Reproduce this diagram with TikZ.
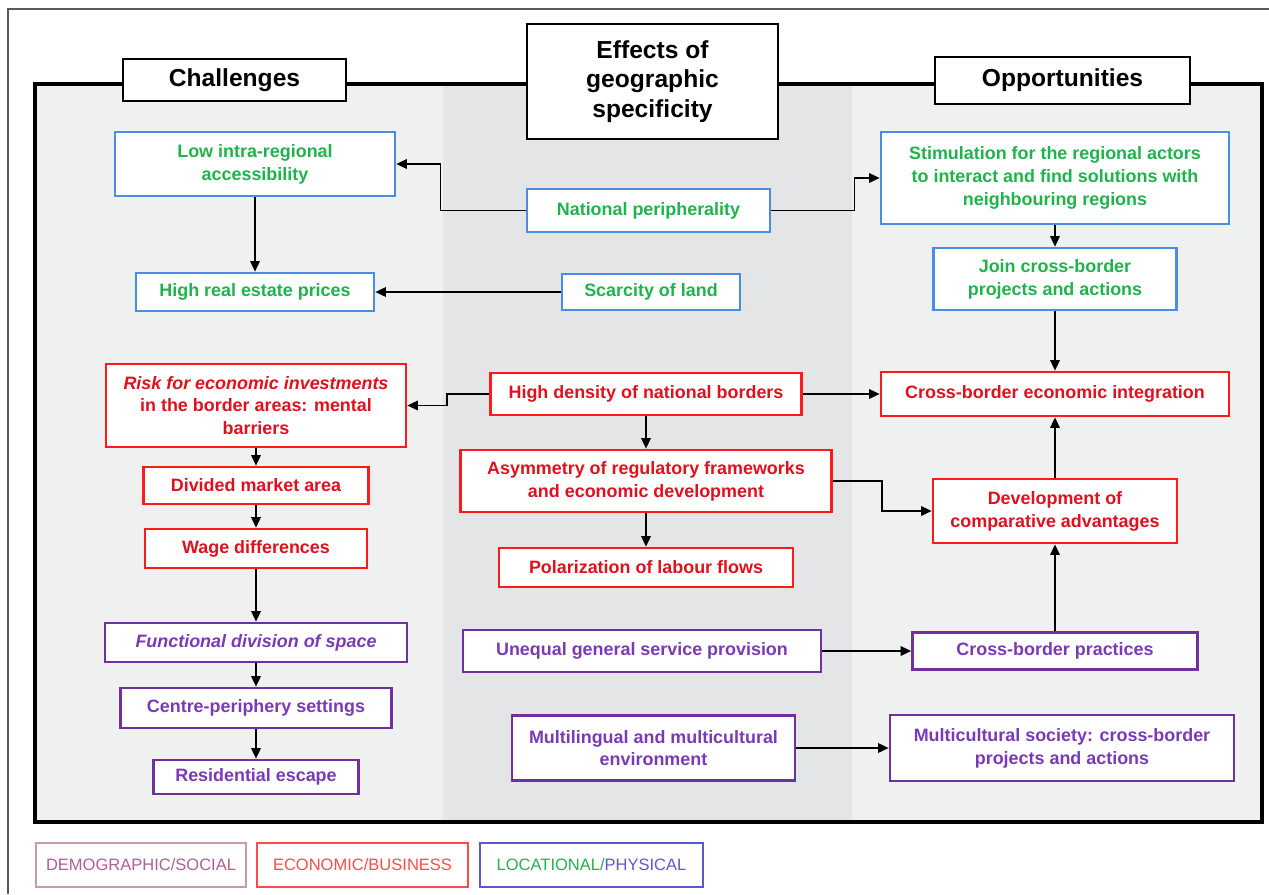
\documentclass[tikz,border=0pt]{standalone}
\usepackage{fontspec}
\setmainfont{Liberation Sans}
\usetikzlibrary{arrows.meta,positioning,calc}
\definecolor{locblue}{HTML}{4A8CE6}
\definecolor{locgreen}{HTML}{1FB44B}
\definecolor{ecored}{HTML}{FF1A1A}
\definecolor{ecotext}{HTML}{E0101E}
\definecolor{socpurple}{HTML}{7030A0}
\definecolor{soctext}{HTML}{7A3AB8}
\definecolor{panelA}{HTML}{EFF0F0}
\definecolor{panelB}{HTML}{E4E5E7}
\definecolor{demoframe}{HTML}{C898B4}
\definecolor{demotext}{HTML}{B0608E}
\definecolor{legred}{HTML}{FF4A4A}
\definecolor{legblue}{HTML}{5A5AC8}

\begin{document}
\begin{tikzpicture}[
  x=0.02cm,y=-0.02cm,
  box/.style={draw,fill=white,line width=1.6pt,align=center,inner sep=2pt,
              font=\bfseries\fontsize{10.2}{13}\selectfont},
  loc/.style={box,draw=locblue,text=locgreen},
  eco/.style={box,draw=ecored,text=ecotext},
  soc/.style={box,draw=socpurple,text=soctext},
  hdr/.style={draw=black,fill=white,line width=1pt,align=center,
              font=\bfseries\fontsize{14}{17}\selectfont},
  leg/.style={draw,line width=0.8pt,minimum height=0.88cm,
              font=\fontsize{9.4}{11}\selectfont},
  arr/.style={-{Triangle[length=6pt,width=5.5pt]},line width=0.8pt}
]
\useasboundingbox (0,0) rectangle (1269,894);

% panels and frames
\draw[gray!70!black,line width=0.8pt] (8,894) -- (8,9) -- (1269,9);
\fill[panelA] (35,84) rectangle (443,822);
\fill[panelB] (443,84) rectangle (852,822);
\fill[panelA] (852,84) rectangle (1262,822);
\draw[line width=1.8pt] (35,84) rectangle (1262,822);

% headers
\node[hdr,minimum width=4.46cm,minimum height=0.84cm] (chal) at (234.5,80) {Challenges};
\node[hdr,minimum width=5.02cm,minimum height=2.3cm] (title) at (652.5,81.5) {Effects of\\geographic\\specificity};
\node[hdr,minimum width=5.1cm,minimum height=0.94cm] (opp) at (1062.5,80.5) {Opportunities};

% challenges
\node[loc,minimum width=5.6cm,minimum height=1.28cm] (lowacc) at (255,164) {Low intra-regional\\accessibility};
\node[loc,minimum width=4.76cm,minimum height=0.76cm] (realest) at (255,292) {High real estate prices};
\node[eco,minimum width=6cm,minimum height=1.66cm] (risk) at (256,405.5) {\textit{Risk for economic investments}\\in the border areas: mental\\barriers};
\node[eco,minimum width=4.5cm,minimum height=0.74cm] (divided) at (256,485.5) {Divided market area};
\node[eco,minimum width=4.44cm,minimum height=0.78cm] (wage) at (256,548.5) {Wage differences};
\node[soc,minimum width=6.04cm,minimum height=0.78cm] (func) at (256,642.5) {\textit{Functional division of space}};
\node[soc,minimum width=5.42cm,minimum height=0.8cm] (centre) at (256,708) {Centre-periphery settings};
\node[soc,minimum width=4.1cm,minimum height=0.68cm] (resid) at (256,777) {Residential escape};

% effects
\node[loc,minimum width=4.86cm,minimum height=0.86cm] (natper) at (648.5,210.5) {National peripherality};
\node[loc,minimum width=3.56cm,minimum height=0.72cm] (scarce) at (651,292) {Scarcity of land};
\node[eco,minimum width=6.22cm,minimum height=0.84cm] (density) at (646,394) {High density of national borders};
\node[eco,minimum width=7.42cm,minimum height=1.24cm] (asym) at (646,481) {Asymmetry of regulatory frameworks\\and economic development};
\node[eco,minimum width=5.88cm,minimum height=0.78cm] (polar) at (646,567.5) {Polarization of labour flows};
\node[soc,minimum width=7.16cm,minimum height=0.84cm] (unequal) at (642,651) {Unequal general service provision};
\node[soc,minimum width=5.66cm,minimum height=1.3cm] (multiling) at (653.5,748) {Multilingual and multicultural\\environment};

% opportunities
\node[loc,minimum width=6.96cm,minimum height=1.84cm] (stim) at (1055,178) {Stimulation for the regional actors\\to interact and find solutions with\\neighbouring regions};
\node[loc,minimum width=4.86cm,minimum height=1.24cm] (join) at (1055,279) {Join cross-border\\projects and actions};
\node[eco,minimum width=6.96cm,minimum height=0.88cm] (cbint) at (1055,394) {Cross-border economic integration};
\node[eco,minimum width=4.88cm,minimum height=1.28cm] (devcomp) at (1055,511) {Development of\\comparative advantages};
\node[soc,minimum width=5.7cm,minimum height=0.74cm] (cbpract) at (1055,651) {Cross-border practices};
\node[soc,minimum width=6.88cm,minimum height=1.32cm] (multisoc) at (1062,748) {Multicultural society: cross-border\\projects and actions};

% legend
\node[leg,draw=demoframe,text=demotext,minimum width=4.2cm] (legdemo) at (141,865) {DEMOGRAPHIC/SOCIAL};
\node[leg,draw=legred,text=legred,minimum width=4.22cm] (legeco) at (362.5,865) {ECONOMIC/BUSINESS};
\node[leg,draw=legblue,minimum width=4.46cm] (legloc) at (591.5,865) {\textcolor{locgreen}{LOCATIONAL/}\textcolor{legblue}{PHYSICAL}};

% connectors
\draw[arr] (natper.west) -- ++(-85,0) |- (lowacc.east);
\draw[arr] (natper.east) -- ++(83,0) |- (stim.west);
\draw[arr] (lowacc) -- (realest);
\draw[arr] (scarce) -- (realest);
\draw[arr] (stim) -- (join);
\draw[arr] (join) -- (cbint);
\draw[arr] (density.west) -- ++(-42,0) |- (risk.east);
\draw[arr] (density) -- (cbint);
\draw[arr] (density) -- (asym);
\draw[arr] (asym) -- (polar);
\draw[arr] (asym.east) -- ++(49,0) |- (devcomp.west);
\draw[arr] (devcomp) -- (cbint);
\draw[arr] (cbpract) -- (devcomp);
\draw[arr] (unequal) -- (cbpract);
\draw[arr] (multiling) -- (multisoc);
\draw[arr] (risk) -- (divided);
\draw[arr] (divided) -- (wage);
\draw[arr] (wage) -- (func);
\draw[arr] (func) -- (centre);
\draw[arr] (centre) -- (resid);
\end{tikzpicture}
\end{document}
